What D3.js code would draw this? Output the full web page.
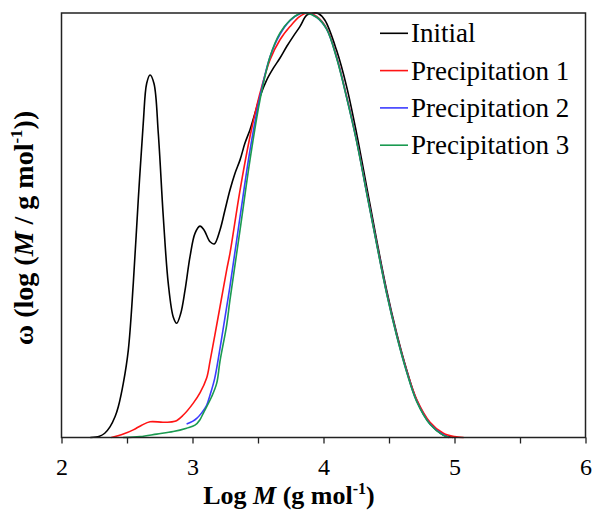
<!DOCTYPE html>
<html lang="en">
<head>
    <meta charset="UTF-8">
    <title>Molecular weight distribution</title>
    <script src="https://d3js.org/d3.v7.min.js"></script>
    <style>
        body { margin: 0; background: #fff; }
        svg text { font-family: "Liberation Serif", Tinos, "Times New Roman", Times, "DejaVu Serif", serif; fill: #000; }
    </style>
</head>
<body>
<svg id="chart" width="594" height="515"></svg>
<script>
    // log M values and normalised w for each sample
    var initial = [
        [2.22,0],[2.29,0.003],[2.33,0.01],[2.37,0.025],[2.41,0.05],[2.434,0.073],[2.472,0.128],
        [2.51,0.206],[2.548,0.363],[2.586,0.56],[2.624,0.74],[2.65,0.834],[2.676,0.854],
        [2.706,0.834],[2.739,0.716],[2.777,0.52],[2.815,0.363],[2.853,0.284],[2.879,0.269],
        [2.91,0.292],[2.943,0.347],[2.981,0.426],[3.019,0.481],[3.057,0.498],[3.088,0.489],
        [3.134,0.461],[3.166,0.456],[3.21,0.489],[3.248,0.536],[3.286,0.583],[3.324,0.622],
        [3.363,0.654],[3.4,0.693],[3.439,0.725],[3.477,0.764],[3.515,0.803],[3.566,0.842],
        [3.617,0.87],[3.668,0.894],[3.719,0.921],[3.769,0.945],[3.82,0.968],[3.872,0.995],
        [3.922,1.0],[3.96,0.999],[4.011,0.983],[4.1,0.912],[4.177,0.826],[4.253,0.716],
        [4.33,0.59],[4.406,0.465],[4.482,0.347],[4.559,0.245],[4.635,0.159],[4.711,0.088],
        [4.813,0.033],[4.915,0.006],[4.99,0]
    ];
    var precip1 = [
        [2.38,0],[2.43,0.004],[2.472,0.008],[2.548,0.018],[2.612,0.029],[2.676,0.037],
        [2.777,0.036],[2.866,0.038],[2.93,0.053],[3.006,0.081],[3.057,0.105],[3.108,0.14],
        [3.134,0.18],[3.17,0.24],[3.21,0.308],[3.261,0.395],[3.286,0.434],[3.363,0.583],
        [3.439,0.709],[3.515,0.811],[3.592,0.89],[3.668,0.937],[3.744,0.968],[3.82,0.992],
        [3.88,1.0],[3.948,0.992],[4.024,0.964],[4.1,0.897],[4.177,0.803],[4.253,0.7],
        [4.33,0.578],[4.406,0.458],[4.482,0.342],[4.559,0.242],[4.635,0.158],[4.711,0.09],
        [4.813,0.036],[4.915,0.01],[5.0,0.002],[5.07,0]
    ];
    var precip2 = [
        [2.955,0.032],[3.0,0.038],[3.032,0.045],[3.07,0.058],[3.108,0.076],[3.134,0.1],
        [3.17,0.14],[3.21,0.21],[3.261,0.308],[3.286,0.356],[3.363,0.52],[3.439,0.677],
        [3.515,0.803],[3.592,0.897],[3.668,0.95],[3.744,0.982],[3.82,0.998],[3.87,1.0],
        [3.948,0.99],[4.024,0.962],[4.1,0.895],[4.177,0.801],[4.253,0.698],[4.33,0.576],
        [4.406,0.456],[4.482,0.34],[4.559,0.24],[4.635,0.155],[4.711,0.086],[4.813,0.032],
        [4.915,0.006],[4.96,0]
    ];
    var precip3 = [
        [2.47,0],[2.6,0.002],[2.727,0.008],[2.853,0.014],[2.955,0.022],[3.019,0.029],
        [3.057,0.042],[3.082,0.057],[3.146,0.096],[3.185,0.128],[3.21,0.18],[3.261,0.265],
        [3.286,0.324],[3.363,0.489],[3.439,0.654],[3.515,0.795],[3.592,0.897],[3.668,0.953],
        [3.744,0.983],[3.82,0.999],[3.86,1.0],[3.948,0.99],[4.024,0.962],[4.1,0.894],
        [4.177,0.8],[4.253,0.697],[4.33,0.575],[4.406,0.455],[4.482,0.339],[4.559,0.239],
        [4.635,0.154],[4.711,0.085],[4.813,0.031],[4.915,0.005],[4.96,0]
    ];
    var seriesNames = ["Initial", "Precipitation 1", "Precipitation 2", "Precipitation 3"];
    var seriesColors = ["#000000", "#ff1414", "#3c3cff", "#1a9a50"];
    var xTicks = [2, 2.5, 3, 3.5, 4, 4.5, 5, 5.5, 6];

    var series = [initial, precip1, precip2, precip3];

    var plotL = 61.5, plotR = 585.5, plotT = 13, plotB = 437.5;
    var svg = d3.select("#chart");

    var x = d3.scaleLinear().domain([2, 6]).range([plotL, plotR]);
    var y = d3.scaleLinear().domain([0, 1]).range([plotB, plotT]);

    // curves
    var line = d3.line()
        .x(function(d) { return x(d[0]); })
        .y(function(d) { return y(d[1]); })
        .curve(d3.curveCatmullRom.alpha(0.5));

    series.forEach(function(s, i) {
        svg.append("path")
            .attr("d", line(s))
            .attr("fill", "none")
            .attr("stroke", seriesColors[i])
            .attr("stroke-width", 1.6);
    });

    // frame
    svg.append("rect")
        .attr("x", plotL).attr("y", plotT)
        .attr("width", plotR - plotL).attr("height", plotB - plotT)
        .attr("fill", "none").attr("stroke", "#222").attr("stroke-width", 1.5);

    // x axis
    var xAxis = d3.axisBottom(x)
        .tickValues(xTicks)
        .tickSize(6)
        .tickFormat(function(d) { return d % 1 === 0 ? d : ""; });
    var gx = svg.append("g")
        .attr("transform", "translate(0," + plotB + ")")
        .call(xAxis);
    gx.attr("font-family", null).attr("font-size", null);
    gx.select(".domain").remove();
    gx.selectAll(".tick line").attr("stroke", "#222").attr("stroke-width", 1.3);
    gx.selectAll(".tick text")
        .attr("y", 37.5)
        .attr("dy", null)
        .style("font-size", "24px");

    // axis titles
    var xt = svg.append("text")
        .attr("x", 289).attr("y", 504)
        .attr("text-anchor", "middle")
        .style("font-size", "26px").style("font-weight", "bold");
    xt.append("tspan").text("Log ");
    xt.append("tspan").style("font-style", "italic").text("M");
    xt.append("tspan").text(" (g mol");
    xt.append("tspan").attr("dy", -10).style("font-size", "16px").text("-1");
    xt.append("tspan").attr("dy", 10).text(")");

    var yt = svg.append("text")
        .attr("transform", "translate(33," + 228 + ") rotate(-90)")
        .attr("text-anchor", "middle")
        .style("font-size", "28px").style("font-weight", "bold");
    yt.append("tspan").text("\u03c9 (log (");
    yt.append("tspan").style("font-style", "italic").text("M");
    yt.append("tspan").text(" / g mol");
    yt.append("tspan").attr("dy", -11).style("font-size", "17px").text("-1");
    yt.append("tspan").attr("dy", 11).text("))");

    // legend
    var legend = svg.append("g");
    seriesNames.forEach(function(name, i) {
        var ly = 33.3 + i * 37.3;
        legend.append("line")
            .attr("x1", 380).attr("x2", 408)
            .attr("y1", ly).attr("y2", ly)
            .attr("stroke", seriesColors[i]).attr("stroke-width", 1.6);
        legend.append("text")
            .attr("x", 411).attr("y", ly + 9)
            .style("font-size", "27px")
            .text(name);
    });
</script>
</body>
</html>
